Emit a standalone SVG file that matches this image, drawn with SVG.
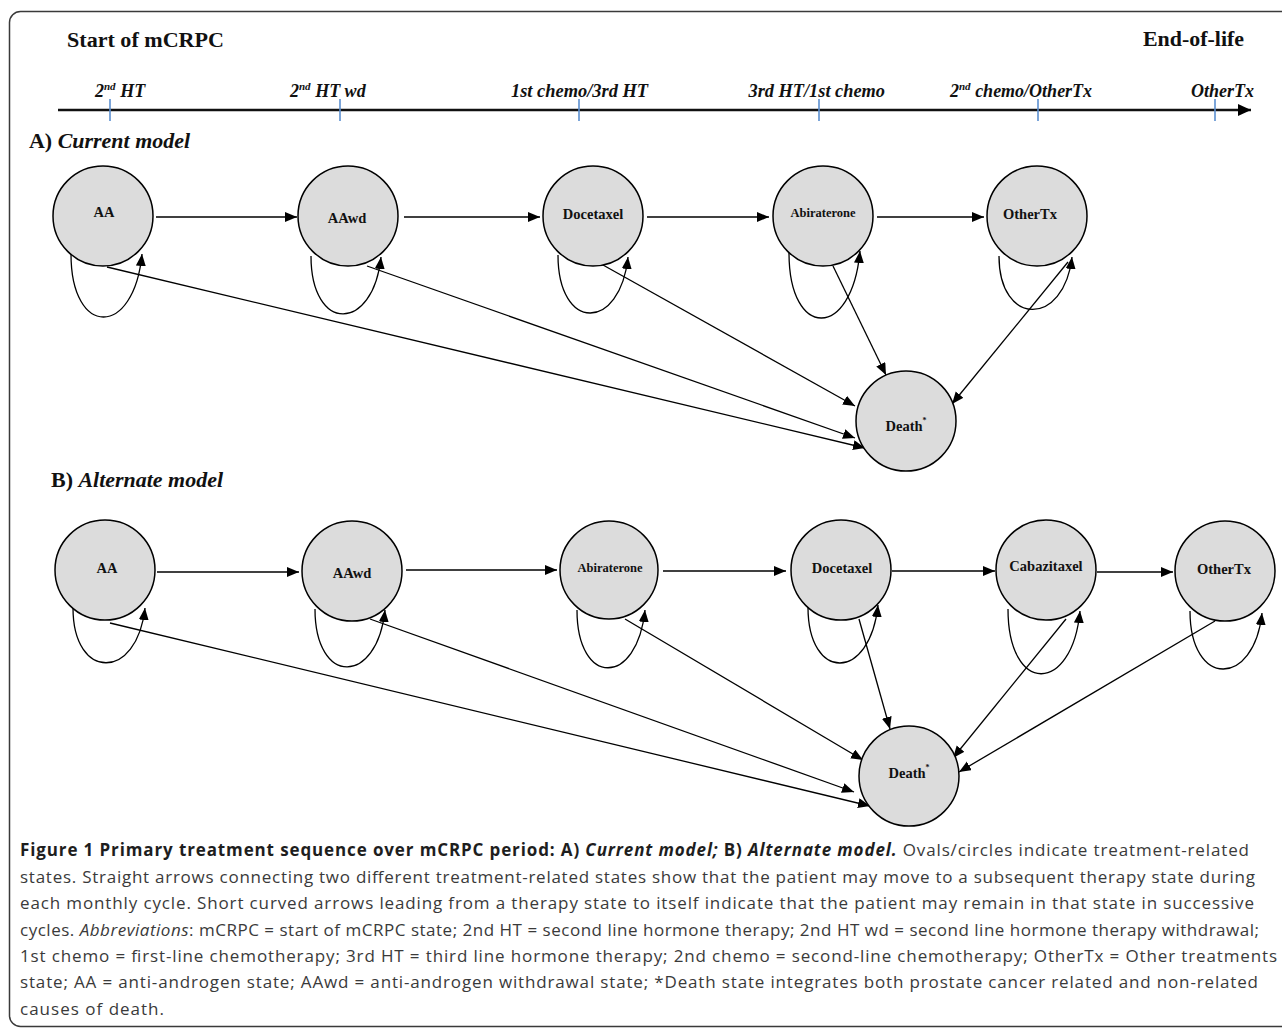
<svg xmlns="http://www.w3.org/2000/svg" width="1282" height="1029" viewBox="0 0 1282 1029">
<style>
.node{fill:#dcdcdc;stroke:#000;stroke-width:1.5}
.lbl{font-family:"Liberation Serif","Times New Roman",serif;font-weight:bold;font-size:14.5px;fill:#111;text-anchor:middle}
.sm{font-size:12.5px}
.cn{fill:none;stroke:#000;stroke-width:1.3;marker-end:url(#ah)}
.tl{font-family:"Liberation Serif","Times New Roman",serif;font-weight:bold;font-style:italic;font-size:18px;fill:#111}
.hd{font-family:"Liberation Serif","Times New Roman",serif;font-weight:bold;font-size:20px;fill:#111}
.tick{stroke:#5b8fd0;stroke-width:1.6}
.cap{font-family:"Open Sans","Noto Sans","Liberation Sans",sans-serif;font-size:17px;fill:#3a3a3a}
.b{font-weight:bold;fill:#1e1e1e}
.i{font-style:italic}
</style>
<defs>
<marker id="ah" markerUnits="userSpaceOnUse" markerWidth="13" markerHeight="11" refX="12" refY="5" orient="auto" viewBox="0 0 13 11"><path d="M0,0 L12,5 L0,10 z" fill="#000"/></marker>
<marker id="ah2" markerUnits="userSpaceOnUse" markerWidth="15" markerHeight="13" refX="13" refY="6" orient="auto" viewBox="0 0 15 13"><path d="M0,0 L13,6 L0,12 z" fill="#000"/></marker>
</defs>
<rect width="1282" height="1029" fill="#fff"/>
<rect x="9.5" y="11.5" width="1300" height="1015" rx="11" fill="none" stroke="#3a3a3a" stroke-width="1.5"/>

<g id="timeline">
<text class="hd" x="67" y="46.5" textLength="157" lengthAdjust="spacingAndGlyphs">Start of mCRPC</text>
<text class="hd" x="1143" y="46" textLength="101" lengthAdjust="spacingAndGlyphs">End-of-life</text>
<line x1="58" y1="110" x2="1251" y2="110" stroke="#111" stroke-width="2.6" marker-end="url(#ah2)"/>
<line class="tick" x1="110" y1="99" x2="110" y2="121"/>
<line class="tick" x1="340" y1="99" x2="340" y2="121"/>
<line class="tick" x1="579" y1="99" x2="579" y2="121"/>
<line class="tick" x1="819" y1="99" x2="819" y2="121"/>
<line class="tick" x1="1038" y1="99" x2="1038" y2="121"/>
<line class="tick" x1="1215" y1="99" x2="1215" y2="121"/>
<text class="tl" x="95" y="96.5">2<tspan font-size="11" dy="-7">nd</tspan><tspan dy="7"> HT</tspan></text>
<text class="tl" x="290" y="96.5">2<tspan font-size="11" dy="-7">nd</tspan><tspan dy="7"> HT wd</tspan></text>
<text class="tl" x="511" y="96.5" textLength="137" lengthAdjust="spacingAndGlyphs">1st chemo/3rd HT</text>
<text class="tl" x="748.5" y="96.5" textLength="136.5" lengthAdjust="spacingAndGlyphs">3rd HT/1st chemo</text>
<text class="tl" x="950" y="96.5">2<tspan font-size="11" dy="-7">nd</tspan><tspan dy="7"> chemo/OtherTx</tspan></text>
<text class="tl" x="1191" y="96.5" textLength="63" lengthAdjust="spacingAndGlyphs">OtherTx</text>
</g>

<text class="hd" x="29" y="148" textLength="161" lengthAdjust="spacingAndGlyphs">A) <tspan font-style="italic">Current model</tspan></text>
<text class="hd" x="51" y="487" textLength="172" lengthAdjust="spacingAndGlyphs">B) <tspan font-style="italic">Alternate model</tspan></text>

<g id="connectors">
<!-- Model A horizontal -->
<line class="cn" x1="156" y1="217" x2="297" y2="217"/>
<line class="cn" x1="404" y1="217" x2="540" y2="217"/>
<line class="cn" x1="647" y1="217" x2="769" y2="217"/>
<line class="cn" x1="877" y1="217" x2="984" y2="217"/>
<!-- Model A loops -->
<path class="cn" d="M71,254 C71,338 134,338 142,254"/>
<path class="cn" d="M311,256 C311,333 373,333 381,257"/>
<path class="cn" d="M558,255 C558,332 620,332 628,257"/>
<path class="cn" d="M789,253 C789,340 852,340 860,251"/>
<path class="cn" d="M999,256 C999,327 1064,327 1072,257"/>
<!-- Model A to Death -->
<line class="cn" x1="107" y1="267" x2="865" y2="448"/>
<line class="cn" x1="367" y1="266" x2="855" y2="438"/>
<line class="cn" x1="603" y1="265" x2="855" y2="406"/>
<line class="cn" x1="833" y1="266" x2="886" y2="375"/>
<line class="cn" x1="1068" y1="262" x2="952" y2="404"/>
<!-- Model B horizontal -->
<line class="cn" x1="157" y1="572" x2="299" y2="572"/>
<line class="cn" x1="406" y1="570" x2="557" y2="570"/>
<line class="cn" x1="663" y1="571" x2="786" y2="571"/>
<line class="cn" x1="892" y1="571" x2="995" y2="571"/>
<line class="cn" x1="1097" y1="572" x2="1173" y2="572"/>
<!-- Model B loops -->
<path class="cn" d="M73,608 C73,681 137,681 145,608"/>
<path class="cn" d="M315,609 C315,686 377,686 385,610"/>
<path class="cn" d="M577,610 C577,687 637,687 645,610"/>
<path class="cn" d="M808,607 C808,682 870,682 878,605"/>
<path class="cn" d="M1008,609 C1008,695 1072,695 1080,611"/>
<path class="cn" d="M1190,611 C1190,688 1254,688 1262,613"/>
<!-- Model B to Death -->
<line class="cn" x1="110" y1="623" x2="870" y2="806"/>
<line class="cn" x1="370" y1="619" x2="854" y2="792"/>
<line class="cn" x1="625" y1="619" x2="863" y2="760"/>
<line class="cn" x1="859" y1="619" x2="890" y2="729"/>
<line class="cn" x1="1066" y1="619" x2="953" y2="758"/>
<line class="cn" x1="1215" y1="621" x2="959" y2="772"/>
</g>

<g id="A-AA"><circle class="node" cx="103" cy="216" r="50"/><text class="lbl" x="104" y="217">AA</text></g>
<g id="A-AAwd"><circle class="node" cx="348" cy="216" r="50"/><text class="lbl" x="347" y="223">AAwd</text></g>
<g id="A-Docetaxel"><circle class="node" cx="593" cy="216" r="50"/><text class="lbl" x="593" y="219">Docetaxel</text></g>
<g id="A-Abiraterone"><circle class="node" cx="823" cy="216" r="50"/><text class="lbl sm" x="823" y="217">Abiraterone</text></g>
<g id="A-OtherTx"><circle class="node" cx="1037" cy="216" r="50"/><text class="lbl" x="1030" y="219">OtherTx</text></g>
<g id="A-Death"><circle class="node" cx="906" cy="421" r="50"/><text class="lbl" x="906" y="431">Death<tspan font-size="8" dy="-8">*</tspan></text></g>

<g id="B-AA"><circle class="node" cx="105" cy="570" r="50"/><text class="lbl" x="107" y="573">AA</text></g>
<g id="B-AAwd"><circle class="node" cx="352" cy="571" r="50"/><text class="lbl" x="352" y="578">AAwd</text></g>
<g id="B-Abiraterone"><circle class="node" cx="609" cy="570" r="49"/><text class="lbl sm" x="610" y="572">Abiraterone</text></g>
<g id="B-Docetaxel"><circle class="node" cx="841" cy="570" r="50"/><text class="lbl" x="842" y="573">Docetaxel</text></g>
<g id="B-Cabazitaxel"><circle class="node" cx="1046" cy="570" r="50"/><text class="lbl" x="1046" y="571" font-size="13">Cabazitaxel</text></g>
<g id="B-OtherTx"><circle class="node" cx="1225" cy="571" r="50"/><text class="lbl" x="1224" y="574">OtherTx</text></g>
<g id="B-Death"><circle class="node" cx="909" cy="776" r="50"/><text class="lbl" x="909" y="778">Death<tspan font-size="8" dy="-8">*</tspan></text></g>

<g id="caption">
<text class="cap" x="20" y="856" textLength="1229" lengthAdjust="spacing"><tspan class="b">Figure 1 Primary treatment sequence over mCRPC period: A) </tspan><tspan class="b i">Current model;</tspan><tspan class="b"> B) </tspan><tspan class="b i">Alternate model.</tspan> Ovals/circles indicate treatment-related</text>
<text class="cap" x="20" y="882.5" textLength="1235" lengthAdjust="spacing">states. Straight arrows connecting two different treatment-related states show that the patient may move to a subsequent therapy state during</text>
<text class="cap" x="20" y="909" textLength="1234" lengthAdjust="spacing">each monthly cycle. Short curved arrows leading from a therapy state to itself indicate that the patient may remain in that state in successive</text>
<text class="cap" x="20" y="935.5" textLength="1239" lengthAdjust="spacing">cycles. <tspan class="i">Abbreviations</tspan>: mCRPC = start of mCRPC state; 2nd HT = second line hormone therapy; 2nd HT wd = second line hormone therapy withdrawal;</text>
<text class="cap" x="20" y="962" textLength="1257" lengthAdjust="spacing">1st chemo = first-line chemotherapy; 3rd HT = third line hormone therapy; 2nd chemo = second-line chemotherapy; OtherTx = Other treatments</text>
<text class="cap" x="20" y="988" textLength="1238" lengthAdjust="spacing">state; AA = anti-androgen state; AAwd = anti-androgen withdrawal state; *Death state integrates both prostate cancer related and non-related</text>
<text class="cap" x="20" y="1014.5" textLength="144" lengthAdjust="spacing">causes of death.</text>
</g>
</svg>
